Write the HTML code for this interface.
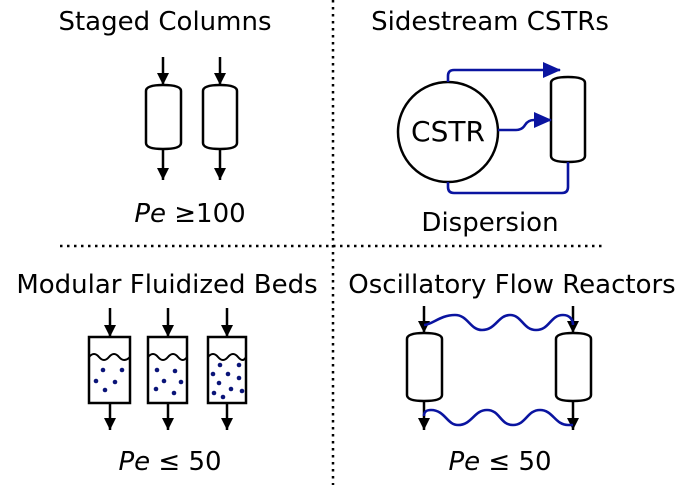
<!DOCTYPE html>
<html><head><meta charset="utf-8"><style>
html,body{margin:0;padding:0;background:#fff;}
svg{display:block;}
text{font-family:"DejaVu Sans","Liberation Sans",sans-serif;fill:#000;}
</style></head><body>
<svg width="685" height="485" viewBox="0 0 685 485" xmlns="http://www.w3.org/2000/svg">
<defs>
<marker id="ak" markerWidth="12" markerHeight="12" refX="12" refY="6" orient="auto" markerUnits="userSpaceOnUse"><path d="M0,0 L12,6 L0,12 z" fill="#000"/></marker>
<marker id="ab" markerWidth="18" markerHeight="16" refX="17" refY="8" orient="auto" markerUnits="userSpaceOnUse"><path d="M0,0 L18,8 L0,16 z" fill="#0a14a0"/></marker>
</defs>
<g stroke="#000" stroke-width="2.5" stroke-dasharray="2.5,4.5" fill="none">
<line x1="333" y1="0" x2="333" y2="485"/>
<line x1="60" y1="246" x2="605" y2="246"/>
</g>
<g font-size="26" text-anchor="middle">
<text x="165" y="30">Staged Columns</text>
<text x="490" y="30">Sidestream CSTRs</text>
<text x="167" y="293">Modular Fluidized Beds</text>
<text x="512" y="293">Oscillatory Flow Reactors</text>
<text x="490" y="231">Dispersion</text>
<text x="190" y="222"><tspan font-style="italic">Pe</tspan> ≥100</text>
<text x="170" y="470"><tspan font-style="italic">Pe</tspan> ≤ 50</text>
<text x="500" y="470"><tspan font-style="italic">Pe</tspan> ≤ 50</text>
</g>
<g stroke="#000" stroke-width="2.5" fill="none">
<line x1="163" y1="57" x2="163" y2="85" marker-end="url(#ak)"/>
<line x1="163" y1="149" x2="163" y2="180" marker-end="url(#ak)"/>
<line x1="220" y1="57" x2="220" y2="85" marker-end="url(#ak)"/>
<line x1="220" y1="149" x2="220" y2="180" marker-end="url(#ak)"/>
<path d="M146,91 Q146,85 163,85 Q181,85 181,91 V143 Q181,149 163,149 Q146,149 146,143 Z" fill="#fff"/>
<path d="M203,91 Q203,85 220,85 Q237,85 237,91 V143 Q237,149 220,149 Q203,149 203,143 Z" fill="#fff"/>
<circle cx="448" cy="132" r="50" fill="#fff"/>
<path d="M551,83 Q551,77 568,77 Q585,77 585,83 V156 Q585,162 568,162 Q551,162 551,156 Z" fill="#fff"/>
<line x1="110" y1="308" x2="110" y2="337" marker-end="url(#ak)"/>
<line x1="168" y1="308" x2="168" y2="337" marker-end="url(#ak)"/>
<line x1="227" y1="308" x2="227" y2="337" marker-end="url(#ak)"/>
<line x1="110" y1="403" x2="110" y2="430" marker-end="url(#ak)"/>
<line x1="168" y1="403" x2="168" y2="430" marker-end="url(#ak)"/>
<line x1="227" y1="403" x2="227" y2="430" marker-end="url(#ak)"/>
<rect x="89" y="337" width="41" height="66"/>
<rect x="148" y="337" width="39" height="66"/>
<rect x="208" y="337" width="38" height="66"/>
<path d="M89,357 q5,-6 10,0 t10,0 t10,0 t11,0" stroke-width="2"/>
<path d="M148,357 q5,-6 10,0 t10,0 t10,0 t9,0" stroke-width="2"/>
<path d="M208,357 q5,-6 10,0 t10,0 t10,0 t8,0" stroke-width="2"/>
<line x1="424" y1="306" x2="424" y2="333" marker-end="url(#ak)"/>
<line x1="573" y1="306" x2="573" y2="333" marker-end="url(#ak)"/>
<line x1="424" y1="401" x2="424" y2="430" marker-end="url(#ak)"/>
<line x1="573" y1="401" x2="573" y2="430" marker-end="url(#ak)"/>
<path d="M407,339 Q407,333 424,333 Q442,333 442,339 V395 Q442,401 424,401 Q407,401 407,395 Z" fill="#fff"/>
<path d="M556,339 Q556,333 573,333 Q591,333 591,339 V395 Q591,401 573,401 Q556,401 556,395 Z" fill="#fff"/>
</g>
<g fill="#0a1478">
<circle cx="103" cy="370" r="2.3"/><circle cx="122" cy="370" r="2.3"/><circle cx="96" cy="381" r="2.3"/><circle cx="115" cy="382" r="2.3"/><circle cx="105" cy="390" r="2.3"/>
<circle cx="157" cy="370" r="2.3"/><circle cx="175" cy="371" r="2.3"/><circle cx="164" cy="381" r="2.3"/><circle cx="181" cy="382" r="2.3"/><circle cx="156" cy="389" r="2.3"/><circle cx="174" cy="393" r="2.3"/>
<circle cx="220" cy="365" r="2.3"/><circle cx="239" cy="365" r="2.3"/><circle cx="213" cy="374" r="2.3"/><circle cx="228" cy="374" r="2.3"/><circle cx="239" cy="378" r="2.3"/><circle cx="219" cy="383" r="2.3"/><circle cx="231" cy="389" r="2.3"/><circle cx="242" cy="391" r="2.3"/><circle cx="214" cy="393" r="2.3"/><circle cx="223" cy="397" r="2.3"/>
</g>
<g stroke="#0a14a0" stroke-width="2.6" fill="none">
<path d="M448,82 V76 Q448,70 454,70 H560" marker-end="url(#ab)"/>
<path d="M498,130 H516 Q522,130 525,125 Q528,120 534,120 H551" marker-end="url(#ab)"/>
<path d="M448,182 V187 Q448,193 454,193 H562 Q568,193 568,187 V162"/>
<path d="M424,325 C432,325 440,315 455,315 C468,315 470,330 482,330 C496,330 498,315 510,315 C522,315 523,330 536,330 C550,330 550,315 563,315 C570,315 573,320 573,325"/>
<path d="M424,416 C424,412 426,410 431,410 C445,410 447,425 458,425 C472,425 474,410 487,410 C500,410 500,425 513,425 C526,425 527,410 540,410 C553,410 555,425 568,425 L573,425"/>
</g>
<text x="448" y="141" font-size="28" text-anchor="middle">CSTR</text>
</svg>
</body></html>
